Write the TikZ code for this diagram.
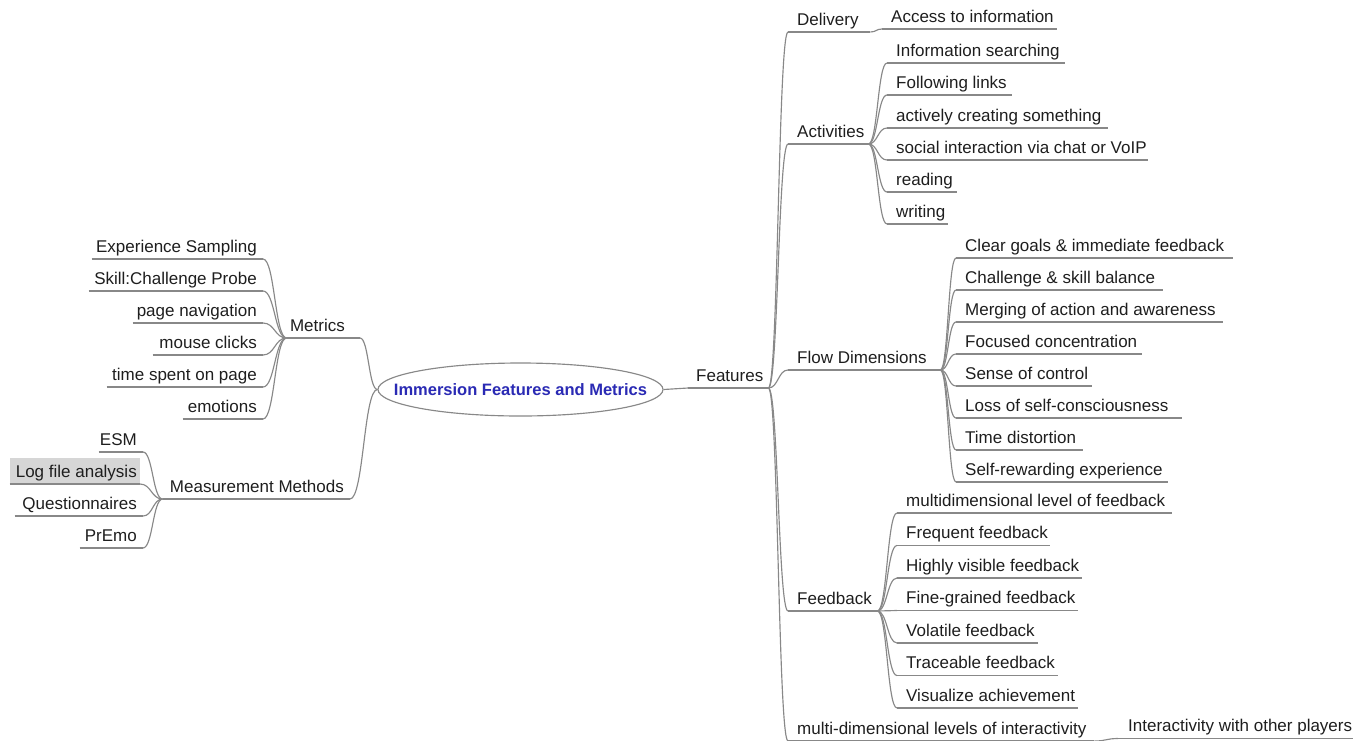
\documentclass[tikz,border=0pt]{standalone}
\usepackage{fontspec}
\setmainfont{Liberation Sans}
\usetikzlibrary{shapes.geometric,calc}
\definecolor{lncol}{HTML}{888888}
\definecolor{titleblue}{HTML}{2A2AB4}
\definecolor{hlgray}{HTML}{D6D6D6}
\definecolor{txtcol}{HTML}{1E1E1E}
\newcommand\RT[3][9]{\makebox[#2pt][l]{\hspace{#1pt}#3}}
\newcommand\LT[3][6]{\makebox[#2pt][r]{#3\hspace{#1pt}}}
\newcommand\lnk[2]{\path ($(#1)!0.5!(#2)$) coordinate (lm);
  \draw[conn] (#1) .. controls (lm |- #1) and (lm |- #2) .. (#2);}
\begin{document}
\begin{tikzpicture}[x=1pt,y=-1pt,
  ul/.style={draw=lncol,line width=1.15pt},
  conn/.style={draw=lncol,line width=1.15pt},
  topic/.style={inner xsep=0pt,inner ysep=2.5pt,text depth=4pt,text height=13pt,
     font=\fontsize{17pt}{20pt}\selectfont,text=txtcol,
     append after command={(\tikzlastnode.south west) edge[ul] (\tikzlastnode.south east)}},
  rtopic/.style={topic,anchor=south west},
  ltopic/.style={topic,anchor=south east},
  titlefont/.style={inner sep=0pt,font=\bfseries\fontsize{16.5pt}{20pt}\selectfont,text=titleblue},
  rootnode/.style={ellipse,draw=lncol,fill=white,line width=1.15pt,minimum width=285pt,
     minimum height=53pt,inner sep=0pt}]
\useasboundingbox (0,0) rectangle (1353,740);
\clip (0,0) rectangle (1353,740);

% root
\node[rootnode,label={[titlefont]center:Immersion Features and Metrics}] (root) at (520.5,389.5) {};

% right side
\node[rtopic] (feat) at (688,388) {\RT[8]{80}{Features}};
\node[rtopic] (deliv) at (788,32) {\RT{82}{Delivery}};
\node[rtopic] (activ) at (788,144) {\RT{80}{Activities}};
\node[rtopic] (flow) at (788,370) {\RT{152}{Flow Dimensions}};
\node[rtopic] (feedb) at (788,611) {\RT{89}{Feedback}};
\node[rtopic] (multi) at (788,741) {\RT{306}{multi-dimensional levels of interactivity}};

\node[rtopic] (acc) at (882,29) {\RT{175}{Access to information}};

\node[rtopic] (a1) at (887,63) {\RT{178}{Information searching}};
\node[rtopic] (a2) at (887,95) {\RT{125}{Following links}};
\node[rtopic] (a3) at (887,128) {\RT{221}{actively creating something}};
\node[rtopic] (a4) at (887,160) {\RT{261}{social interaction via chat or VoIP}};
\node[rtopic] (a5) at (887,192) {\RT{70}{reading}};
\node[rtopic] (a6) at (887,224) {\RT{61}{writing}};

\node[rtopic] (f1) at (956,258) {\RT{277}{Clear goals \& immediate feedback}};
\node[rtopic] (f2) at (956,290) {\RT{207}{Challenge \& skill balance}};
\node[rtopic] (f3) at (956,322) {\RT{267}{Merging of action and awareness}};
\node[rtopic] (f4) at (956,354) {\RT{186}{Focused concentration}};
\node[rtopic] (f5) at (956,386) {\RT{136}{Sense of control}};
\node[rtopic] (f6) at (956,418) {\RT{226}{Loss of self-consciousness}};
\node[rtopic] (f7) at (956,450) {\RT{127}{Time distortion}};
\node[rtopic] (f8) at (956,482) {\RT{212}{Self-rewarding experience}};

\node[rtopic] (b1) at (897,513) {\RT{275}{multidimensional level of feedback}};
\node[rtopic] (b2) at (897,545.5) {\RT{153}{Frequent feedback}};
\node[rtopic] (b3) at (897,578) {\RT{185}{Highly visible feedback}};
\node[rtopic] (b4) at (897,610.5) {\RT{181}{Fine-grained feedback}};
\node[rtopic] (b5) at (897,643) {\RT{141}{Volatile feedback}};
\node[rtopic] (b6) at (897,675.5) {\RT{161}{Traceable feedback}};
\node[rtopic] (b7) at (897,708) {\RT{181}{Visualize achievement}};

\node[rtopic] (inter) at (1118,738.5) {\RT[10]{240}{Interactivity with other players}};

% left side
\node[ltopic] (met) at (360,338) {\LT[15]{73}{Metrics}};
\node[ltopic] (meas) at (350,499) {\LT{187}{Measurement Methods}};

\node[ltopic] (m1) at (263,259) {\LT{171}{Experience Sampling}};
\node[ltopic] (m2) at (263,291) {\LT{174}{Skill:Challenge Probe}};
\node[ltopic] (m3) at (263,323) {\LT{130}{page navigation}};
\node[ltopic] (m4) at (263,355) {\LT{110}{mouse clicks}};
\node[ltopic] (m5) at (263,387) {\LT{156}{time spent on page}};
\node[ltopic] (m6) at (263,419) {\LT{80}{emotions}};

\node[ltopic] (e1) at (143,452) {\LT{44}{ESM}};
\node[ltopic,fill=hlgray,text height=17pt] (e2) at (140,484) {\LT[3]{130}{Log file analysis}};
\node[ltopic] (e3) at (143,516) {\LT{128}{Questionnaires}};
\node[ltopic] (e4) at (143,548) {\LT{63}{PrEmo}};

% connectors
\draw[conn] (root.east) -- (feat.south west);
\lnk{root.west}{met.south east}
\lnk{root.west}{meas.south east}

\foreach \c in {deliv,activ,flow,feedb,multi} {\lnk{feat.south east}{\c.south west}}
\lnk{deliv.south east}{acc.south west}
\foreach \c in {a1,a2,a3,a4,a5,a6} {\lnk{activ.south east}{\c.south west}}
\foreach \c in {f1,f2,f3,f4,f5,f6,f7,f8} {\lnk{flow.south east}{\c.south west}}
\foreach \c in {b1,b2,b3,b4,b5,b6,b7} {\lnk{feedb.south east}{\c.south west}}
\lnk{multi.south east}{inter.south west}

\foreach \c in {m1,m2,m3,m4,m5,m6} {\lnk{met.south west}{\c.south east}}
\foreach \c in {e1,e2,e3,e4} {\lnk{meas.south west}{\c.south east}}
\end{tikzpicture}
\end{document}
